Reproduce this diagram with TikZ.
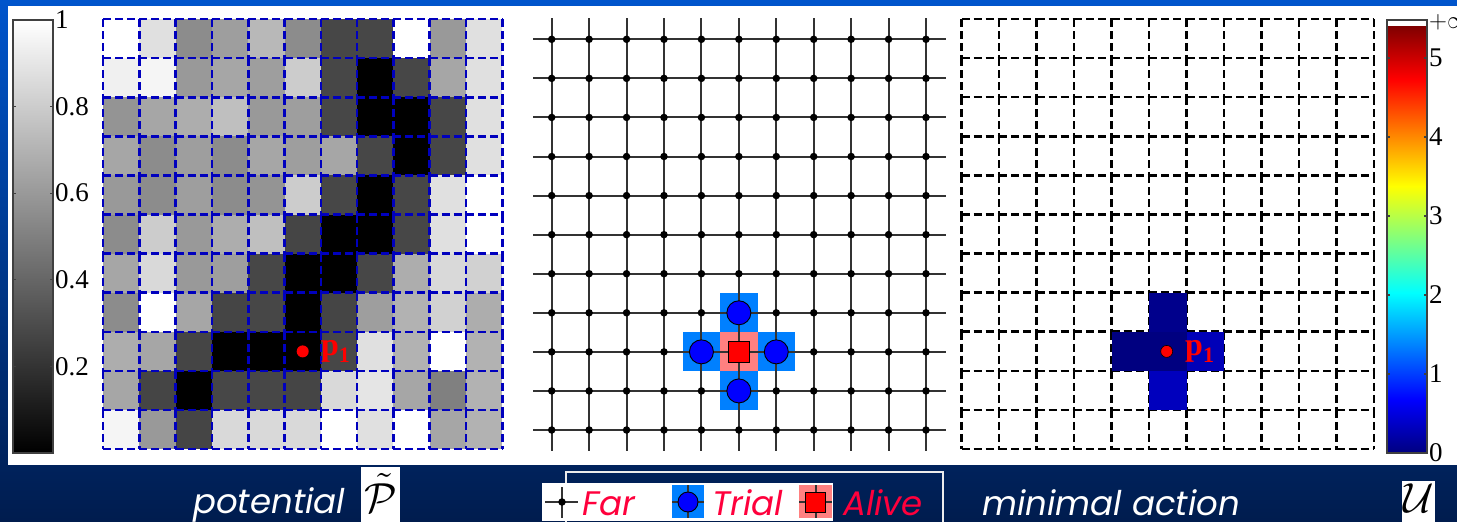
\documentclass[tikz,border=0pt]{standalone}
\usepackage{fontspec}
\setmainfont{Liberation Serif}
\newfontfamily\capfont{Poppins}
\usetikzlibrary{positioning}

\definecolor{bgtop}{RGB}{0,85,204}
\definecolor{bgbot}{RGB}{0,28,78}
\definecolor{gridblue}{RGB}{0,0,190}
\definecolor{trialblue}{RGB}{0,128,255}
\definecolor{alivepink}{RGB}{255,128,128}
\definecolor{legred}{RGB}{255,0,60}
\definecolor{jA}{rgb}{0,0,0.5}
\definecolor{jB}{rgb}{0,0,1}
\definecolor{jC}{rgb}{0,1,1}
\definecolor{jD}{rgb}{1,1,0}
\definecolor{jE}{rgb}{1,0,0}
\definecolor{jF}{rgb}{0.5,0,0}
\pgfdeclareverticalshading{jetmap}{100bp}{color(0bp)=(jA); color(25bp)=(jA); color(31.25bp)=(jB); color(43.75bp)=(jC); color(56.25bp)=(jD); color(68.75bp)=(jE); color(75bp)=(jF); color(100bp)=(jF)}
\newcommand{\pone}{p\raisebox{-7pt}{\fontsize{22}{22}\selectfont 1}}

\begin{document}
\begin{tikzpicture}[x=1pt,y=-1pt,
    potgrid/.style={gridblue, line width=2.6pt, dash pattern=on 8pt off 4pt},
    actgrid/.style={black, line width=2.6pt, dash pattern=on 8pt off 4pt},
    farline/.style={draw=black!80, line width=2pt},
    fardot/.style={circle, fill=black, inner sep=0pt, minimum size=7.5pt},
    trial/.style={circle, draw=black, fill=blue, line width=0.9pt, inner sep=0pt, minimum size=24pt},
    alive/.style={rectangle, draw=black, fill=red, line width=0.9pt, inner sep=0pt, minimum size=21pt},
    pdot/.style={circle, fill=red, inner sep=0pt, minimum size=12pt},
    plabel/.style={text=red, inner sep=0pt, font=\bfseries\fontsize{32}{32}\selectfont},
    barframe/.style={draw=black!75, line width=1.2pt},
    barlabel/.style={anchor=west, inner sep=0pt, font=\fontsize{27}{27}\selectfont},
    caption/.style={anchor=base west, inner sep=0pt, text=white, font=\capfont\itshape\fontsize{34}{34}\selectfont},
    legtext/.style={caption, text=legred}
]
    \useasboundingbox (0,0) rectangle (1457,522);
    \shade[top color=bgtop, bottom color=bgbot] (0,0) rectangle (1457,522);
    \fill[white] (8,6) rectangle (1457,465);

    % potential map
    \shade[bottom color=black, top color=white] (13,20) rectangle (53,453);
    \draw[barframe] (13,20) rectangle (53,453);
    \foreach \v in {0.2,0.4,0.6,0.8} {
        \draw[barframe] (13,{453-\v*433}) -- ++(3,0);
        \draw[barframe] (53,{453-\v*433}) -- ++(-3,0);
    }
    \foreach \v [count=\k] in {1,0.8,0.6,0.4,0.2}
        \node[barlabel] (plab-\k) at (55,{453-\v*433}) {\v};

    \foreach \row [count=\r from 0] in {
        {100,88,55,62,72,55,28,28,100,60,88},
        {94,96,60,65,62,80,28,0,28,65,88},
        {58,65,68,75,60,62,28,0,0,28,88},
        {65,55,62,55,65,62,65,28,0,28,88},
        {60,55,62,55,58,80,28,0,28,88,100},
        {55,80,60,68,75,27,0,0,28,88,100},
        {65,85,60,62,28,0,0,28,68,85,82},
        {55,100,65,27,28,0,27,62,70,82,68},
        {68,65,27,0,0,0,28,88,70,100,70},
        {65,27,0,28,28,27,85,90,65,50,70},
        {96,60,27,85,85,85,100,88,100,65,70}} {
        \foreach \v [count=\c from 0] in \row
            \fill[white!\v!black] ({103+\c*36.3},{19+\r*39.1}) rectangle ++(36.3,39.1);
    }
    \foreach \i in {0,...,10}
        \foreach \j in {0,...,11} {
            \draw[potgrid] ({103+\i*36.3},{19+\j*39.1}) -- ++(36.3,0);
            \draw[potgrid] ({103+\j*36.3},{19+\i*39.1}) -- ++(0,39.1);
        }
    \node[pdot] (pot-p) at (302.7,351.4) {};
    \node[plabel, right=12pt of pot-p] (pot-plab) {\pone};

    % fast marching grid
    \foreach \i in {0,...,10}
        \foreach \j in {0,...,10}
            \coordinate (n-\i-\j) at ({551.7+\i*37.43},{39.3+\j*39.07});
    \foreach \i/\j in {5/7,4/8,6/8,5/9}
        \fill[trialblue] ([shift={(-18.7,-19.5)}]n-\i-\j) rectangle ++(37.4,39);
    \fill[alivepink] ([shift={(-18.7,-19.5)}]n-5-8) rectangle ++(37.4,39);
    \foreach \j in {0,...,10}
        \draw[farline] ([xshift=-18.7pt]n-0-\j) -- ([xshift=20pt]n-10-\j);
    \foreach \i in {0,...,10}
        \draw[farline] ([yshift=21pt]n-\i-0) -- ([yshift=-21pt]n-\i-10);
    \foreach \i in {0,...,10}
        \foreach \j in {0,...,10}
            \node[fardot] (d-\i-\j) at (n-\i-\j) {};
    \node[trial] (trial-n) at (n-5-7) {};
    \node[trial] (trial-w) at (n-4-8) {};
    \node[trial] (trial-e) at (n-6-8) {};
    \node[trial] (trial-s) at (n-5-9) {};
    \node[alive] (alive-c) at (n-5-8) {};

    % minimal action map
    \foreach \i in {0,...,10}
        \foreach \j in {0,...,11} {
            \draw[actgrid] ({961.7+\i*37.48},{19+\j*39.09}) -- ++(37.48,0);
            \draw[actgrid] ({961.7+\j*37.48},{19+\i*39.09}) -- ++(0,39.09);
        }
    \foreach \i/\j/\b in {5/7/55,4/8/50,5/8/50,6/8/72,5/9/74}
        \fill[blue!\b!black] ({961.7+\i*37.48},{19+\j*39.09}) rectangle ++(37.48,39.09);
    \node[pdot, draw=black, line width=0.6pt] (act-p) at (1166.7,351.4) {};
    \node[plabel, right=12pt of act-p] (act-plab) {\pone};

    \fill[white] (1387,20) rectangle (1427,26);
    \shade[shading=jetmap] (1387,26) rectangle (1427,453);
    \draw[barframe] (1387,20) rectangle (1427,453);
    \foreach \k in {1,...,5} {
        \draw[barframe] (1387,{453-\k*79}) -- ++(3,0);
        \draw[barframe] (1427,{453-\k*79}) -- ++(-3,0);
    }
    \foreach \k in {0,...,5}
        \node[barlabel] (ulab-\k) at (1429,{453-\k*79}) {\k};
    \node[barlabel] (ulab-inf) at (1429,22) {$+\infty$};

    % captions and legend
    \node[caption] (cap-pot) at (193,513) {potential};
    \fill[white] (361,467) rectangle (400,522);
    \node[scale=4.2] (sym-pot) at (380.5,493) {$\tilde{\mathcal{P}}$};

    \draw[white!85!gray, line width=1.2pt] (566,525) -- (566,472) -- (943,472) -- (943,525);
    \fill[white] (542,483) rectangle (833,521);
    \coordinate (leg-far) at (562,502);
    \draw[farline] ([xshift=-17pt]leg-far) -- ([xshift=16pt]leg-far);
    \draw[farline] ([yshift=15pt]leg-far) -- ([yshift=-16pt]leg-far);
    \node[fardot] (leg-fardot) at (leg-far) {};
    \node[legtext] (leg-fartxt) at (582,515) {Far};

    \coordinate (leg-trial) at (688,502);
    \fill[trialblue] ([shift={(-16,-17)}]leg-trial) rectangle ++(32,33);
    \draw[farline] ([xshift=-16pt]leg-trial) -- ([xshift=16pt]leg-trial);
    \draw[farline] ([yshift=17pt]leg-trial) -- ([yshift=-16pt]leg-trial);
    \node[trial, minimum size=20pt] (leg-trialsym) at (leg-trial) {};
    \node[legtext] (leg-trialtxt) at (712,515) {Trial};

    \coordinate (leg-alive) at (815.5,502);
    \fill[alivepink] ([shift={(-16.5,-17)}]leg-alive) rectangle ++(33,33);
    \draw[farline] ([xshift=-16.5pt]leg-alive) -- ([xshift=16.5pt]leg-alive);
    \draw[farline] ([yshift=17pt]leg-alive) -- ([yshift=-16pt]leg-alive);
    \node[alive, minimum size=20pt] (leg-alivesym) at (leg-alive) {};
    \node[legtext] (leg-alivetxt) at (843,515) {Alive};

    \node[caption] (cap-act) at (982,515) {minimal action};
    \fill[white] (1402,481) rectangle (1435,522);
    \node[scale=4.2] (sym-act) at (1418.5,498) {$\mathcal{U}$};
\end{tikzpicture}
\end{document}
